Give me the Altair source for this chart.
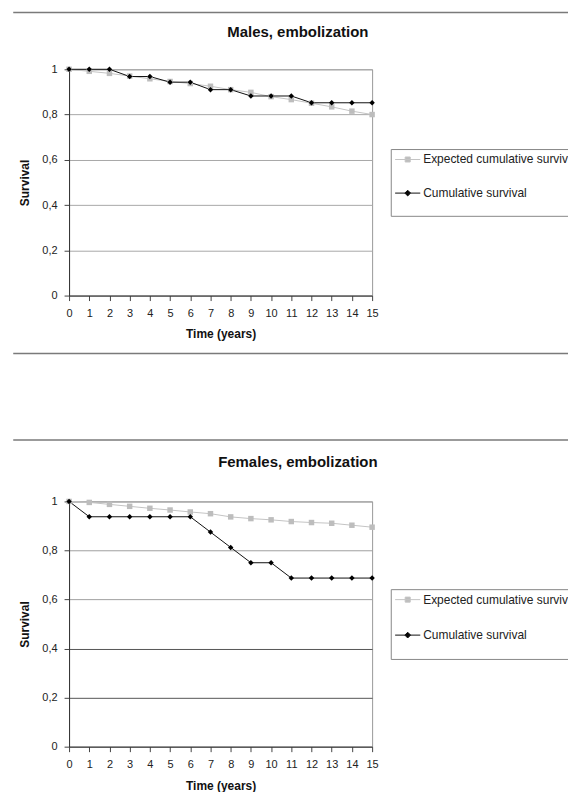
import altair as alt
import pandas as pd

years = list(range(16))
male_expected = [1.0, 0.991, 0.982, 0.97, 0.958, 0.946, 0.937, 0.925, 0.91, 0.898, 0.879, 0.866, 0.85, 0.834, 0.815, 0.80]
male_observed = [1.0, 1.0, 1.0, 0.968, 0.968, 0.943, 0.943, 0.91, 0.91, 0.882, 0.882, 0.882, 0.852, 0.852, 0.852, 0.852]
female_expected = [1.0, 0.996, 0.988, 0.98, 0.972, 0.965, 0.957, 0.95, 0.937, 0.93, 0.925, 0.918, 0.914, 0.911, 0.903, 0.895]
female_observed = [1.0, 0.9375, 0.9375, 0.9375, 0.9375, 0.9375, 0.9375, 0.875, 0.8125, 0.75, 0.75, 0.6875, 0.6875, 0.6875, 0.6875, 0.6875]
series_names = ["Expected cumulative survival", "Cumulative survival"]
series_colors = ["#c4c4c4", "#111111"]
marker_colors = ["#bdbdbd", "#000000"]
marker_shapes = ["square", "diamond"]
y_ticks = [0, 0.2, 0.4, 0.6, 0.8, 1.0]

FONT = "Liberation Sans"
W = 304

def frame(expected, observed):
    rows = []
    for s, vals in zip(series_names, [expected, observed]):
        for t, v in zip(years, vals):
            rows.append({"t": t, "v": v, "series": s})
    return pd.DataFrame(rows)

# legend symbols: short line with marker (size 144 -> 6 px per path unit)
SQ = "M-2.1,0H2.1M-0.42,-0.42H0.42V0.42H-0.42Z"
DI = "M-2.1,0H2.1M-0.48,0L0,-0.48L0.48,0L0,0.48Z"
IS_OBS = "datum.value === 'Cumulative survival'"

def panel(title, title_y, expected, observed, H, top_rule, bottom_rule, legend_y, grid_color,
          row_pad, leg_title_size, leg_title_pad, x_title_pad):
    df = frame(expected, observed)
    x = alt.X("t:Q", scale=alt.Scale(domain=[0, 15], nice=False),
              axis=alt.Axis(values=years, title="Time (years)", grid=False, labelFlush=False,
                            labelOverlap=False, labelBound=False, tickSize=5, tickColor="#444",
                            domainColor="#333", labelPadding=7, titlePadding=x_title_pad))
    y = alt.Y("v:Q", scale=alt.Scale(domain=[0, 1], nice=False),
              axis=alt.Axis(values=y_ticks, title="Survival", grid=True, gridColor=grid_color,
                            tickSize=5, tickColor="#444", domainColor="#333", labelPadding=7,
                            titlePadding=10,
                            labelExpr="datum.value == 0 ? '0' : datum.value == 1 ? '1' : replace(format(datum.value, '.1f'), '.', ',')"))
    base = alt.Chart(df).encode(x=x, y=y)
    leg = alt.Legend(
        orient="none", legendX=322.7, legendY=legend_y,
        title=" ", titleOrient="bottom", titleFontSize=leg_title_size, titlePadding=leg_title_pad,
        strokeColor="#888", padding=4, symbolSize=144, symbolStrokeWidth=1,
        symbolType={"expr": "%s ? '%s' : '%s'" % (IS_OBS, DI, SQ)},
        symbolFillColor={"expr": "%s ? '#000000' : '#bdbdbd'" % IS_OBS},
        symbolOpacity=1, symbolOffset=6.5,
        labelFont=FONT, labelFontSize=12, labelColor="#222", labelLimit=300,
        labelOffset=9, rowPadding=row_pad,
    )
    line = base.mark_line(strokeWidth=1).encode(
        stroke=alt.Stroke("series:N", scale=alt.Scale(domain=series_names, range=series_colors), legend=leg),
        order=alt.Order("t:Q"),
    )
    layers = [line]
    for name, col, shp in zip(series_names, marker_colors, marker_shapes):
        layers.append(base.transform_filter(alt.datum.series == name).mark_point(
            filled=True, opacity=1, size=30, shape=shp, color=col))
    one = alt.Chart(pd.DataFrame({"k": [0]}))
    for ry in [top_rule] + ([bottom_rule] if bottom_rule is not None else []):
        layers.append(one.mark_rule(color="#7a7a7a", strokeWidth=1.5).encode(
            x=alt.value(-56), x2=alt.value(560), y=alt.value(ry)))
    layers.append(one.mark_text(fontSize=15, fontWeight="bold", font=FONT, color="#111",
                                align="center", baseline="middle").encode(
        x=alt.value(229.5), y=alt.value(title_y), text=alt.value(title)))
    return alt.layer(*layers).properties(width=W, height=H)

male_grid = "#a8a8a8"
female_grid = {"condition": {"test": "datum.value > 0 && datum.value < 0.5", "value": "#555555"},
               "value": "#a0a0a0"}

males = panel("Males, embolization", -37, male_expected, male_observed, 227, -57, 285, 80,
              male_grid, 20.7, 10, 2.6, 10)
females = panel("Females, embolization", -39.7, female_expected, female_observed, 246, -61.7, None, 88,
                female_grid, 22.6, 12, 3, 11)

chart = alt.vconcat(males, females, spacing=83.5).resolve_scale(
    stroke="independent"
).resolve_legend(
    stroke="independent"
).properties(
    padding={"left": 3.25, "top": 1.25, "right": -61.5, "bottom": -1}
).configure_view(stroke="#999999", strokeWidth=1).configure_axis(
    labelFont=FONT, labelFontSize=11, labelColor="#222", titleFont=FONT, titleFontSize=12,
    titleFontWeight="bold", titleColor="#111",
)

chart.save("out.html", embed_options={"renderer": "svg", "actions": False})
